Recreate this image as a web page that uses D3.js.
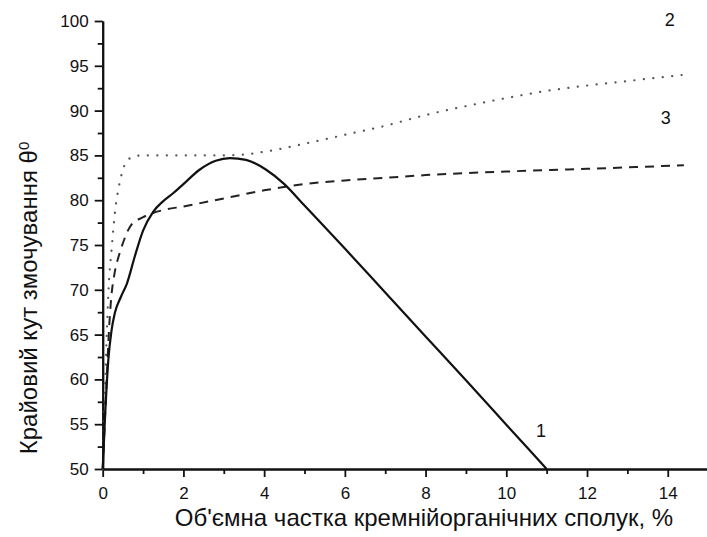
<!DOCTYPE html>
<html><head><meta charset="utf-8">
<script src="https://cdn.jsdelivr.net/npm/d3@7"></script>
<style>body{margin:0;background:#fff}svg{display:block}text{font-family:"Liberation Sans",Arial,sans-serif;fill:#111}</style>
</head><body><svg id="c" width="707" height="537"></svg>
<script>
// Curve 1 (solid)
const x1 = [0, 0.06, 0.14, 0.22, 0.3, 0.45, 0.6, 0.8, 1.0, 1.25, 1.5, 1.75, 2.0, 2.4, 2.8, 3.15, 3.55, 4.05, 4.5, 5.0, 6, 7, 8, 9, 10, 11];
const y1 = [50, 56, 62.2, 65.5, 67.4, 69.2, 70.7, 73.8, 76.6, 78.7, 79.9, 80.8, 81.8, 83.4, 84.4, 84.7, 84.5, 83.4, 81.8, 79.4, 74.6, 69.7, 64.8, 59.9, 54.95, 50];
// Curve 2 (dotted)
const x2 = [0, 0.05, 0.1, 0.15, 0.22, 0.3, 0.4, 0.5, 0.6, 0.8, 1, 2, 3, 3.5, 4, 5, 6, 7, 8, 9, 10, 11, 12, 13, 14, 14.4];
const y2 = [50, 58, 65, 70.5, 74.5, 78.5, 81.5, 83.4, 84.4, 84.9, 85, 85, 85, 85.1, 85.4, 86.3, 87.3, 88.3, 89.5, 90.5, 91.4, 92.2, 92.8, 93.3, 93.8, 94];
// Curve 3 (dashed)
const x3 = [0, 0.05, 0.1, 0.15, 0.2, 0.3, 0.4, 0.5, 0.7, 1, 1.5, 2, 3, 4, 5, 6, 7, 8, 10, 12, 14.4];
const y3 = [50, 55, 60, 65, 68.5, 72, 73.8, 75.2, 77.2, 78.1, 78.9, 79.3, 80.2, 81.1, 81.8, 82.2, 82.5, 82.8, 83.2, 83.5, 83.9];
const xMajor = [0, 2, 4, 6, 8, 10, 12, 14];
const xMinor = [1, 3, 5, 7, 9, 11, 13];
const yMajor = [50, 55, 60, 65, 70, 75, 80, 85, 90, 95, 100];
const yMinor = [52.5, 57.5, 62.5, 67.5, 72.5, 77.5, 82.5, 87.5, 92.5, 97.5];
const curveLabels = [["1", 10.86, 54.2], ["2", 14.05, 100.1], ["3", 13.95, 89.2]];
const xTitle = "Об'ємна частка кремнійорганічних сполук, %";
const yTitle = "Крайовий кут змочування θ";

const svg = d3.select("#c");
const x = d3.scaleLinear().domain([0, 15]).range([102.7, 708.1]);
const y = d3.scaleLinear().domain([50, 100]).range([469, 21]);

// axes
const gx = svg.append("g").attr("transform", `translate(0,${y(50)})`);
gx.call(d3.axisBottom(x).tickValues(xMajor).tickSize(8).tickPadding(10).tickSizeOuter(0));
const gxm = svg.append("g").attr("transform", `translate(0,${y(50)})`);
gxm.call(d3.axisBottom(x).tickValues(xMinor).tickSize(5).tickFormat("").tickSizeOuter(0));
const gy = svg.append("g").attr("transform", `translate(${x(0)},0)`);
gy.call(d3.axisLeft(y).tickValues(yMajor).tickSize(8).tickPadding(6).tickSizeOuter(0));
const gym = svg.append("g").attr("transform", `translate(${x(0)},0)`);
gym.call(d3.axisLeft(y).tickValues(yMinor).tickSize(5).tickFormat("").tickSizeOuter(0));
svg.selectAll(".domain").attr("stroke", "#111").attr("stroke-width", 2);
svg.selectAll(".tick line").attr("stroke", "#111").attr("stroke-width", 1.8);
svg.selectAll(".tick text").style("font-size", "17px").style("font-family", '"Liberation Sans",Arial,sans-serif').attr("fill", "#111");

const line = (xs, ys) => d3.line().x((d, i) => x(xs[i])).y((d, i) => y(ys[i])).curve(d3.curveMonotoneX)(xs);

svg.append("path").attr("d", line(x2, y2)).attr("fill", "none").attr("stroke", "#555")
  .attr("stroke-width", 2.2).attr("stroke-linecap", "round").attr("stroke-dasharray", "0.1,9.4");
svg.append("path").attr("d", line(x3, y3)).attr("fill", "none").attr("stroke", "#222")
  .attr("stroke-width", 2).attr("stroke-dasharray", "9,7");
svg.append("path").attr("d", line(x1, y1)).attr("fill", "none").attr("stroke", "#111")
  .attr("stroke-width", 2.2);

svg.selectAll(".clab").data(curveLabels).enter().append("text")
  .attr("x", d => x(d[1])).attr("y", d => y(d[2])).attr("text-anchor", "middle")
  .attr("dominant-baseline", "central").style("font-size", "18px").text(d => d[0]);

svg.append("text").attr("x", 424).attr("y", 526).attr("text-anchor", "middle")
  .style("font-size", "24px").text(xTitle);
const yt = svg.append("text").attr("transform", "translate(37,298) rotate(-90)").attr("text-anchor", "middle")
  .style("font-size", "24px");
yt.append("tspan").text(yTitle);
yt.append("tspan").attr("dy", "-0.55em").style("font-size", "15px").text("0");
</script></body></html>
